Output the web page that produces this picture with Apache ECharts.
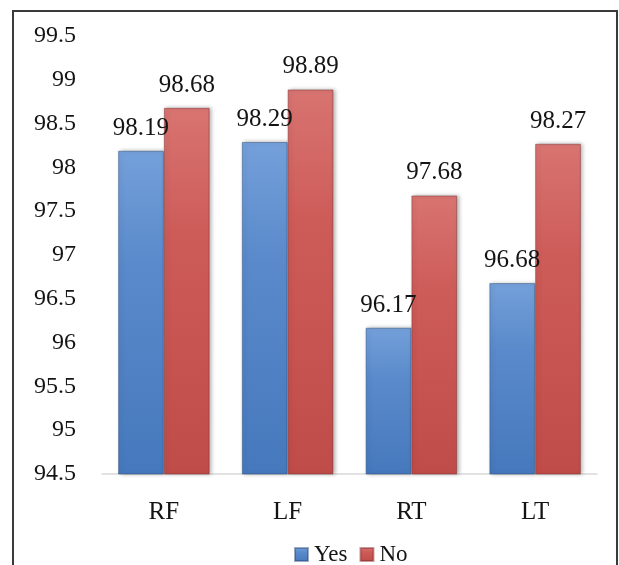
<!DOCTYPE html>
<html>
<head>
<meta charset="utf-8">
<script src="https://cdn.jsdelivr.net/npm/echarts@6/dist/echarts.min.js"></script>
<style>
html,body{margin:0;padding:0;background:#fff;}
#c{width:619px;height:565px;}
</style>
</head>
<body>
<div id="c"></div>
<script>
var categories = ['RF', 'LF', 'RT', 'LT'];
var yesValues = [98.19, 98.29, 96.17, 96.68];
var noValues = [98.68, 98.89, 97.68, 98.27];
var yTicks = [94.5, 95, 95.5, 96, 96.5, 97, 97.5, 98, 98.5, 99, 99.5];

var font = "'Liberation Serif', 'Times New Roman', serif";
var ink = '#141414';
function grad(top, mid, bottom) {
  return new echarts.graphic.LinearGradient(0, 0, 0, 1, [
    {offset: 0, color: top},
    {offset: 0.35, color: mid},
    {offset: 1, color: bottom}
  ]);
}
var chart = echarts.init(document.getElementById('c'), null, {renderer: 'canvas'});
chart.setOption({
  animation: false,
  backgroundColor: '#fff',
  textStyle: {fontFamily: font},
  graphic: [{
    type: 'rect',
    shape: {x: 13, y: 11, width: 604, height: 600},
    style: {fill: 'none', stroke: '#3a3a3a', lineWidth: 2},
    silent: true,
    z: 100
  }],
  grid: {left: 102, right: 22, top: 36, bottom: 91, containLabel: false},
  legend: {
    top: 538,
    left: 289,
    itemWidth: 13,
    itemHeight: 13,
    itemGap: 12,
    icon: 'rect',
    textStyle: {fontFamily: font, fontSize: 23, color: ink, padding: [0, 0, 0, 1]},
    data: ['Yes', 'No']
  },
  xAxis: {
    type: 'category',
    data: categories,
    axisLine: {lineStyle: {color: '#d9d9d9', width: 1.5}},
    axisTick: {show: false},
    axisLabel: {fontFamily: font, fontSize: 25, color: ink, margin: 26}
  },
  yAxis: {
    type: 'value',
    min: 94.5,
    max: 99.5,
    interval: 0.5,
    axisLine: {show: false},
    axisTick: {show: false},
    splitLine: {show: false},
    axisLabel: {
      fontFamily: font, fontSize: 24, color: ink, margin: 26,
      formatter: function (v) {
        var r = Math.round(v * 10) / 10;
        return yTicks.indexOf(r) >= 0 ? String(r) : '';
      }
    }
  },
  series: [{
    name: 'Yes',
    type: 'bar',
    data: yesValues,
    barGap: '0%',
    barCategoryGap: '26%',
    itemStyle: {
      color: grad('#74a0da', '#5a8acb', '#4678bd'),
      borderColor: 'rgba(40,70,120,0.45)',
      borderWidth: 1,
      shadowColor: 'rgba(0,0,0,0.3)',
      shadowBlur: 4,
      shadowOffsetX: 2,
      shadowOffsetY: 0
    },
    label: {show: true, position: 'top', distance: 10, fontFamily: font, fontSize: 25, color: ink}
  }, {
    name: 'No',
    type: 'bar',
    data: noValues,
    itemStyle: {
      color: grad('#d87471', '#cd5b58', '#c04c49'),
      borderColor: 'rgba(120,40,40,0.45)',
      borderWidth: 1,
      shadowColor: 'rgba(0,0,0,0.3)',
      shadowBlur: 4,
      shadowOffsetX: 2,
      shadowOffsetY: 0
    },
    label: {show: true, position: 'top', distance: 10, fontFamily: font, fontSize: 25, color: ink}
  }]
});
</script>
</body>
</html>
